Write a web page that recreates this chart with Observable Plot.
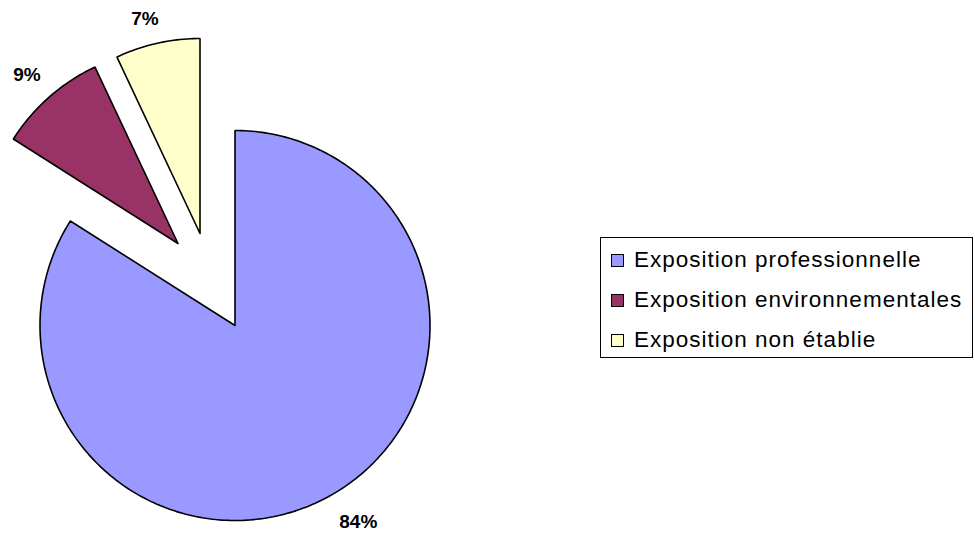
<!DOCTYPE html>
<html>
<head>
<meta charset="utf-8">
<script src="https://cdn.jsdelivr.net/npm/d3@7"></script>
<script src="https://cdn.jsdelivr.net/npm/@observablehq/plot@0.6"></script>
<style>
  html, body { margin: 0; padding: 0; background: #fff; }
  #wrap { position: relative; width: 975px; height: 533px; overflow: hidden; }
  #legend {
    position: absolute; left: 600px; top: 237px; width: 373px; height: 121px;
    border: 1px solid #000; box-sizing: border-box; background: #fff;
    font-family: "Liberation Sans", Arial, sans-serif; font-size: 22.5px; color: #000;
  }
  .row { position: absolute; left: 10px; display: flex; align-items: center; height: 26px; }
  .sw { width: 11px; height: 11px; border: 1px solid #000; margin-right: 10px; }
  .lab { letter-spacing: 1px; white-space: nowrap; }
</style>
</head>
<body>
<div id="wrap"><div id="chart"></div><div id="legend"></div></div>
<script>
const categories = ["Exposition professionnelle", "Exposition environnementales", "Exposition non établie"];
const values = [84, 9, 7];
const labels = ["84%", "9%", "7%"];
const colors = ["#9999FF", "#993366", "#FFFFCC"];

// layout
const W = 975, H = 533, R = 195, cx = 234.5, cy = 325;
const explodePx = [[0, 0], [-57, -82], [-35, -92]]; // screen px offsets of exploded slices
const labelRs = [1.19, 1.16, 1.135];
const labelRot = [-3.3, -0.5, -1.8]; // degrees

const total = d3.sum(values);
let acc = 0;
const slices = values.map((v, i) => {
  const a0 = acc / total * 2 * Math.PI;
  acc += v;
  const a1 = acc / total * 2 * Math.PI;
  const ox = explodePx[i][0] / R, oy = -explodePx[i][1] / R;
  const pts = [{x: ox, y: oy}];
  const n = Math.max(8, Math.ceil((a1 - a0) / (Math.PI / 180)));
  for (let k = 0; k <= n; k++) {
    const a = a0 + (a1 - a0) * k / n;
    pts.push({x: ox + Math.sin(a), y: oy + Math.cos(a)});
  }
  pts.push({x: ox, y: oy});
  const am = (a0 + a1) / 2 + labelRot[i] * Math.PI / 180;
  return {i, pts, label: {x: ox + labelRs[i] * Math.sin(am), y: oy + labelRs[i] * Math.cos(am), text: labels[i]}};
});

const marks = slices.map(s => Plot.line(s.pts, {
  x: "x", y: "y", fill: colors[s.i], stroke: "#000", strokeWidth: 1.6,
  strokeLinejoin: "miter", curve: "linear"
}));
marks.push(Plot.text(slices.map(s => s.label), {
  x: "x", y: "y", text: "text", fontSize: 19, fontWeight: "bold",
  fontFamily: "Liberation Sans, Arial, sans-serif", fill: "#000"
}));

const plot = Plot.plot({
  width: W, height: H, margin: 0,
  x: {domain: [-cx / R, (W - cx) / R], axis: null},
  y: {domain: [-(H - cy) / R, cy / R], axis: null},
  style: {background: "transparent", overflow: "visible"},
  marks
});
document.getElementById("chart").appendChild(plot);

const legend = document.getElementById("legend");
const rowTops = [9, 49, 89];
categories.forEach((c, i) => {
  const row = document.createElement("div");
  row.className = "row";
  row.style.top = rowTops[i] + "px";
  const sw = document.createElement("div");
  sw.className = "sw";
  sw.style.background = colors[i];
  const lab = document.createElement("span");
  lab.className = "lab";
  lab.textContent = c;
  row.appendChild(sw); row.appendChild(lab);
  legend.appendChild(row);
});
</script>
</body>
</html>
